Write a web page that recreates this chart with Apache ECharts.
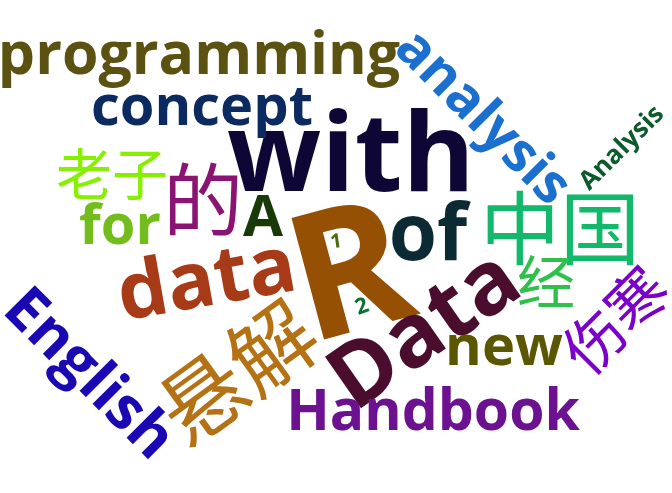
<!DOCTYPE html>
<html>
<head>
    <meta charset="utf-8">
    <title>Word cloud</title>
    <script src="https://cdn.jsdelivr.net/npm/echarts@6/dist/echarts.min.js"></script>
</head>
<body>
<style>
    html, body, #main {
        width: 100%;
        height: 100%;
        padding: 0;
        margin: 0;
        background: #fff;
    }
</style>
<div id="main"></div>
<script type="text/javascript">
// words and their weights
var words   = ['R', 'with', 'Data', 'data', 'of', '中国', '悬解', 'Handbook', 'programming',
               'analysis', 'English', 'concept', '的', '伤寒', '老子', 'new', 'for', '经',
               'A', 'Analysis', '2', '1'];
var weights = [176, 110, 88, 79, 78, 80, 86, 57, 59,
               55, 60, 56, 80, 60, 56, 56, 56, 58,
               58, 26, 22, 20];
var colors  = ['#965003', '#0e0634', '#4a0d2d', '#a83b17', '#0b2a33', '#12b96b', '#b57214', '#6c1290', '#5b5110',
               '#1b70cf', '#1a08b3', '#0b2a5f', '#8b1372', '#7b00c9', '#86f000', '#5b5600', '#72bc1b', '#2ec04b',
               '#173a08', '#0b5b2b', '#087030', '#4d6a10'];

// placement of each word (layout, same order as words)
var posX = [352, 351, 426, 207, 428, 560, 237, 433, 199,
            482, 88, 202, 203, 615, 112, 504, 120, 546,
            263, 622, 362, 336];
var posY = [280, 160, 332, 283, 238, 228, 372, 414, 57,
            118, 375, 109, 200, 320, 174, 349, 228, 282,
            219, 148, 307, 242];
var rot  = [15, 0, 35, 10, 0, 0, 36, 0, 0,
            -45, -45, 0, 0, 45, 0, 0, 0, 0,
            0, 45, 20, 8];

var sizeRange = [20, 176];
var wMin = Math.min.apply(null, weights), wMax = Math.max.apply(null, weights);

function isCJK(s) { return /[\u4e00-\u9fff]/.test(s); }

var points = words.map(function (w, i) {
    var size = sizeRange[0] + (weights[i] - wMin) / (wMax - wMin) * (sizeRange[1] - sizeRange[0]);
    return {
        name: w,
        value: [posX[i], posY[i], weights[i]],
        label: {
            fontSize: size,
            rotate: rot[i],
            color: colors[i],
            fontFamily: isCJK(w) ? '"Noto Sans CJK SC", sans-serif' : '"Open Sans", sans-serif',
            fontWeight: isCJK(w) ? 'normal' : 'bold'
        }
    };
});

var myChart = echarts.init(document.getElementById('main'));
myChart.setOption({
    animation: false,
    grid: {left: 0, right: 0, top: 0, bottom: 0},
    xAxis: {type: 'value', min: 0, max: 672, show: false},
    yAxis: {type: 'value', min: 0, max: 493, inverse: true, show: false},
    series: [{
        type: 'scatter',
        symbolSize: 0,
        itemStyle: {opacity: 1},
        emphasis: {disabled: true},
        data: points,
        label: {
            show: true,
            position: 'inside',
            align: 'center',
            verticalAlign: 'middle',
            formatter: function (p) { return p.name; }
        }
    }]
});
window.onresize = function () { myChart.resize(); };
</script>
</body>
</html>
